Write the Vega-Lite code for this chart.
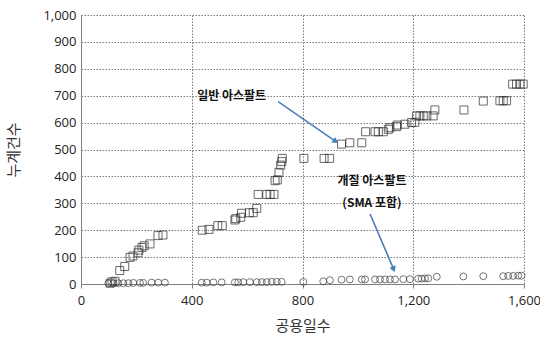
{
  "$schema": "https://vega.github.io/schema/vega-lite/v6.json",
  "width": 443,
  "height": 269,
  "autosize": "none",
  "padding": {"left": 81, "top": 15, "right": 16, "bottom": 55},
  "background": "white",
  "config": {
    "view": {"stroke": null},
    "font": "Noto Sans CJK KR",
    "axis": {
      "domainColor": "#808080",
      "gridColor": "#6e6e6e",
      "gridDash": [1.5, 1.5],
      "gridWidth": 0.9,
      "tickColor": "#808080",
      "labelColor": "#222222",
      "labelFont": "Open Sans",
      "labelFontSize": 13,
      "labelOverlap": false,
      "titleFont": "Noto Sans CJK KR",
      "titleFontSize": 15,
      "titleFontWeight": "normal",
      "titleColor": "#333333"
    }
  },
  "datasets": {
    "points": [
      {"series": "일반 아스팔트", "day": 105, "count": 3},
      {"series": "일반 아스팔트", "day": 112, "count": 8},
      {"series": "일반 아스팔트", "day": 123, "count": 10},
      {"series": "일반 아스팔트", "day": 140, "count": 50},
      {"series": "일반 아스팔트", "day": 158, "count": 65},
      {"series": "일반 아스팔트", "day": 177, "count": 99},
      {"series": "일반 아스팔트", "day": 188, "count": 104},
      {"series": "일반 아스팔트", "day": 206, "count": 116},
      {"series": "일반 아스팔트", "day": 209, "count": 126},
      {"series": "일반 아스팔트", "day": 220, "count": 136},
      {"series": "일반 아스팔트", "day": 228, "count": 142},
      {"series": "일반 아스팔트", "day": 249, "count": 149},
      {"series": "일반 아스팔트", "day": 278, "count": 180},
      {"series": "일반 아스팔트", "day": 296, "count": 182},
      {"series": "일반 아스팔트", "day": 438, "count": 200},
      {"series": "일반 아스팔트", "day": 462, "count": 203},
      {"series": "일반 아스팔트", "day": 494, "count": 217},
      {"series": "일반 아스팔트", "day": 510, "count": 217},
      {"series": "일반 아스팔트", "day": 556, "count": 238},
      {"series": "일반 아스팔트", "day": 559, "count": 243},
      {"series": "일반 아스팔트", "day": 577, "count": 248},
      {"series": "일반 아스팔트", "day": 580, "count": 263},
      {"series": "일반 아스팔트", "day": 608, "count": 265},
      {"series": "일반 아스팔트", "day": 622, "count": 265},
      {"series": "일반 아스팔트", "day": 635, "count": 281},
      {"series": "일반 아스팔트", "day": 640, "count": 333},
      {"series": "일반 아스팔트", "day": 671, "count": 333},
      {"series": "일반 아스팔트", "day": 683, "count": 333},
      {"series": "일반 아스팔트", "day": 697, "count": 333},
      {"series": "일반 아스팔트", "day": 701, "count": 384},
      {"series": "일반 아스팔트", "day": 709, "count": 387},
      {"series": "일반 아스팔트", "day": 715, "count": 415},
      {"series": "일반 아스팔트", "day": 721, "count": 442},
      {"series": "일반 아스팔트", "day": 725, "count": 455},
      {"series": "일반 아스팔트", "day": 727, "count": 467},
      {"series": "일반 아스팔트", "day": 805, "count": 467},
      {"series": "일반 아스팔트", "day": 878, "count": 467},
      {"series": "일반 아스팔트", "day": 898, "count": 467},
      {"series": "일반 아스팔트", "day": 941, "count": 520},
      {"series": "일반 아스팔트", "day": 971, "count": 525},
      {"series": "일반 아스팔트", "day": 1014, "count": 525},
      {"series": "일반 아스팔트", "day": 1028, "count": 566},
      {"series": "일반 아스팔트", "day": 1062, "count": 566},
      {"series": "일반 아스팔트", "day": 1074, "count": 566},
      {"series": "일반 아스팔트", "day": 1092, "count": 566},
      {"series": "일반 아스팔트", "day": 1110, "count": 575},
      {"series": "일반 아스팔트", "day": 1116, "count": 581},
      {"series": "일반 아스팔트", "day": 1140, "count": 585},
      {"series": "일반 아스팔트", "day": 1142, "count": 591},
      {"series": "일반 아스팔트", "day": 1170, "count": 594},
      {"series": "일반 아스팔트", "day": 1194, "count": 600},
      {"series": "일반 아스팔트", "day": 1206, "count": 601},
      {"series": "일반 아스팔트", "day": 1212, "count": 625},
      {"series": "일반 아스팔트", "day": 1224, "count": 625},
      {"series": "일반 아스팔트", "day": 1236, "count": 625},
      {"series": "일반 아스팔트", "day": 1249, "count": 625},
      {"series": "일반 아스팔트", "day": 1272, "count": 625},
      {"series": "일반 아스팔트", "day": 1278, "count": 647},
      {"series": "일반 아스팔트", "day": 1383, "count": 647},
      {"series": "일반 아스팔트", "day": 1453, "count": 680},
      {"series": "일반 아스팔트", "day": 1513, "count": 681},
      {"series": "일반 아스팔트", "day": 1525, "count": 681},
      {"series": "일반 아스팔트", "day": 1537, "count": 681},
      {"series": "일반 아스팔트", "day": 1559, "count": 743},
      {"series": "일반 아스팔트", "day": 1573, "count": 743},
      {"series": "일반 아스팔트", "day": 1585, "count": 743},
      {"series": "일반 아스팔트", "day": 1597, "count": 743},

      {"series": "개질 아스팔트", "day": 99, "count": 2},
      {"series": "개질 아스팔트", "day": 117, "count": 2},
      {"series": "개질 아스팔트", "day": 135, "count": 3},
      {"series": "개질 아스팔트", "day": 153, "count": 3},
      {"series": "개질 아스팔트", "day": 171, "count": 3},
      {"series": "개질 아스팔트", "day": 189, "count": 4},
      {"series": "개질 아스팔트", "day": 213, "count": 4},
      {"series": "개질 아스팔트", "day": 225, "count": 4},
      {"series": "개질 아스팔트", "day": 255, "count": 5},
      {"series": "개질 아스팔트", "day": 279, "count": 5},
      {"series": "개질 아스팔트", "day": 303, "count": 5},
      {"series": "개질 아스팔트", "day": 436, "count": 5},
      {"series": "개질 아스팔트", "day": 454, "count": 5},
      {"series": "개질 아스팔트", "day": 478, "count": 6},
      {"series": "개질 아스팔트", "day": 508, "count": 6},
      {"series": "개질 아스팔트", "day": 556, "count": 6},
      {"series": "개질 아스팔트", "day": 568, "count": 6},
      {"series": "개질 아스팔트", "day": 586, "count": 7},
      {"series": "개질 아스팔트", "day": 610, "count": 7},
      {"series": "개질 아스팔트", "day": 635, "count": 7},
      {"series": "개질 아스팔트", "day": 653, "count": 7},
      {"series": "개질 아스팔트", "day": 671, "count": 7},
      {"series": "개질 아스팔트", "day": 689, "count": 8},
      {"series": "개질 아스팔트", "day": 707, "count": 8},
      {"series": "개질 아스팔트", "day": 725, "count": 8},
      {"series": "개질 아스팔트", "day": 803, "count": 8},
      {"series": "개질 아스팔트", "day": 875, "count": 10},
      {"series": "개질 아스팔트", "day": 899, "count": 14},
      {"series": "개질 아스팔트", "day": 941, "count": 16},
      {"series": "개질 아스팔트", "day": 971, "count": 17},
      {"series": "개질 아스팔트", "day": 1014, "count": 17},
      {"series": "개질 아스팔트", "day": 1026, "count": 17},
      {"series": "개질 아스팔트", "day": 1062, "count": 17},
      {"series": "개질 아스팔트", "day": 1080, "count": 17},
      {"series": "개질 아스팔트", "day": 1098, "count": 17},
      {"series": "개질 아스팔트", "day": 1116, "count": 17},
      {"series": "개질 아스팔트", "day": 1134, "count": 17},
      {"series": "개질 아스팔트", "day": 1164, "count": 18},
      {"series": "개질 아스팔트", "day": 1188, "count": 18},
      {"series": "개질 아스팔트", "day": 1218, "count": 20},
      {"series": "개질 아스팔트", "day": 1230, "count": 20},
      {"series": "개질 아스팔트", "day": 1242, "count": 21},
      {"series": "개질 아스팔트", "day": 1254, "count": 21},
      {"series": "개질 아스팔트", "day": 1285, "count": 27},
      {"series": "개질 아스팔트", "day": 1381, "count": 28},
      {"series": "개질 아스팔트", "day": 1453, "count": 29},
      {"series": "개질 아스팔트", "day": 1525, "count": 29},
      {"series": "개질 아스팔트", "day": 1543, "count": 30},
      {"series": "개질 아스팔트", "day": 1561, "count": 30},
      {"series": "개질 아스팔트", "day": 1579, "count": 31},
      {"series": "개질 아스팔트", "day": 1591, "count": 31}
    ],
    "arrows": [
      {"id": "general", "day": 712, "count": 678, "day2": 917, "count2": 532},
      {"id": "modified", "day": 1044, "count": 260, "day2": 1128, "count2": 58}
    ],
    "labels": [
      {"text": "일반 아스팔트", "day": 544, "count": 699},
      {"text": "개질 아스팔트", "day": 1051, "count": 383},
      {"text": "(SMA 포함)", "day": 1051, "count": 301}
    ]
  },
  "encoding": {
    "x": {
      "field": "day", "type": "quantitative",
      "scale": {"domain": [0, 1600], "nice": false},
      "axis": {"title": "공용일수", "values": [0, 400, 800, 1200, 1600], "tickCount": 20, "format": ",d", "labelPadding": 6, "titlePadding": 11, "tickSize": 4, "labelFlush": false}
    },
    "y": {
      "field": "count", "type": "quantitative",
      "scale": {"domain": [0, 1000], "nice": false},
      "axis": {"title": "누계건수", "values": [0, 100, 200, 300, 400, 500, 600, 700, 800, 900, 1000], "tickCount": 30, "format": ",d", "labelPadding": 5, "titlePadding": 21, "tickSize": 0}
    }
  },
  "layer": [
    {
      "data": {"name": "points"},
      "transform": [{"filter": "datum.series === '개질 아스팔트'"}],
      "mark": {"type": "point", "shape": "circle", "filled": false, "size": 48, "stroke": "#3a3a3a", "strokeWidth": 1}
    },
    {
      "data": {"name": "points"},
      "transform": [{"filter": "datum.series === '일반 아스팔트'"}],
      "mark": {"type": "point", "shape": "square", "filled": false, "size": 64, "stroke": "#2a2a2a", "strokeWidth": 1}
    },
    {
      "data": {"name": "arrows"},
      "mark": {"type": "rule", "stroke": "#4a7ebb", "strokeWidth": 1.6},
      "encoding": {
        "x2": {"field": "day2"},
        "y2": {"field": "count2"}
      }
    },
    {
      "data": {"name": "arrows"},
      "transform": [{"filter": "datum.id === 'general'"}],
      "mark": {"type": "point", "shape": "triangle", "filled": true, "size": 45, "color": "#4a7ebb", "opacity": 1, "angle": 124},
      "encoding": {
        "x": {"field": "day2", "type": "quantitative"},
        "y": {"field": "count2", "type": "quantitative"}
      }
    },
    {
      "data": {"name": "arrows"},
      "transform": [{"filter": "datum.id === 'modified'"}],
      "mark": {"type": "point", "shape": "triangle", "filled": true, "size": 45, "color": "#4a7ebb", "opacity": 1, "angle": 157},
      "encoding": {
        "x": {"field": "day2", "type": "quantitative"},
        "y": {"field": "count2", "type": "quantitative"}
      }
    },
    {
      "data": {"name": "labels"},
      "mark": {"type": "text", "font": "Noto Sans CJK KR", "fontSize": 12, "fontWeight": "bold", "color": "#111111", "align": "center", "baseline": "middle"},
      "encoding": {
        "text": {"field": "text"}
      }
    }
  ]
}
